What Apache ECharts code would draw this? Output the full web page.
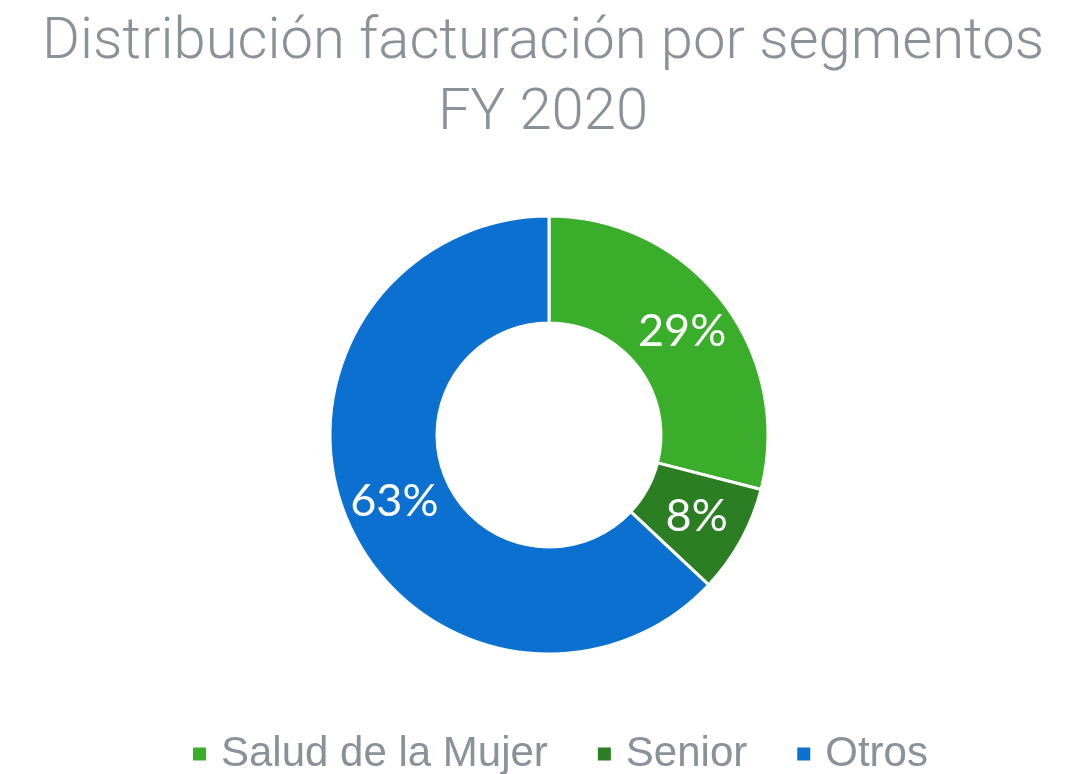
<!DOCTYPE html>
<html><head><meta charset="utf-8">
<script src="https://cdn.jsdelivr.net/npm/echarts@6/dist/echarts.min.js"></script>
<style>html,body{margin:0;padding:0;background:#fff}#c{width:1086px;height:774px}</style>
</head><body><div id="c"></div>
<script>
const categories = ["Salud de la Mujer", "Senior", "Otros"];
const values = [29, 8, 63];
const colors = ["#3aae2a", "#2b7f22", "#0b70cf"];

const chart = echarts.init(document.getElementById('c'));
chart.setOption({
  animation: false,
  title: {
    text: "Distribución facturación por segmentos\nFY 2020",
    left: 'center', top: 3,
    textStyle: { color: '#8a9199', fontSize: 58, fontWeight: 300, fontFamily: 'Roboto', lineHeight: 71 }
  },
  legend: {
    top: 728, left: 186,
    itemWidth: 15, itemHeight: 15, itemGap: 48,
    icon: 'rect',
    textStyle: { color: '#8a9199', fontSize: 42, fontFamily: 'Liberation Sans', padding: [0, 0, 0, 9] },
    data: categories
  },
  series: [{
    type: 'pie',
    center: [549, 435],
    radius: [112, 219],
    startAngle: 90,
    clockwise: true,
    itemStyle: { borderColor: '#fff', borderWidth: 3 },
    label: {
      show: true, position: 'inside',
      formatter: p => p.value + '%',
      color: '#fff', fontSize: 45, fontWeight: 'normal', fontFamily: 'Lato'
    },
    labelLine: { show: false },
    data: categories.map((c, i) => ({ name: c, value: values[i], itemStyle: { color: colors[i] } }))
  }]
});
</script></body></html>
